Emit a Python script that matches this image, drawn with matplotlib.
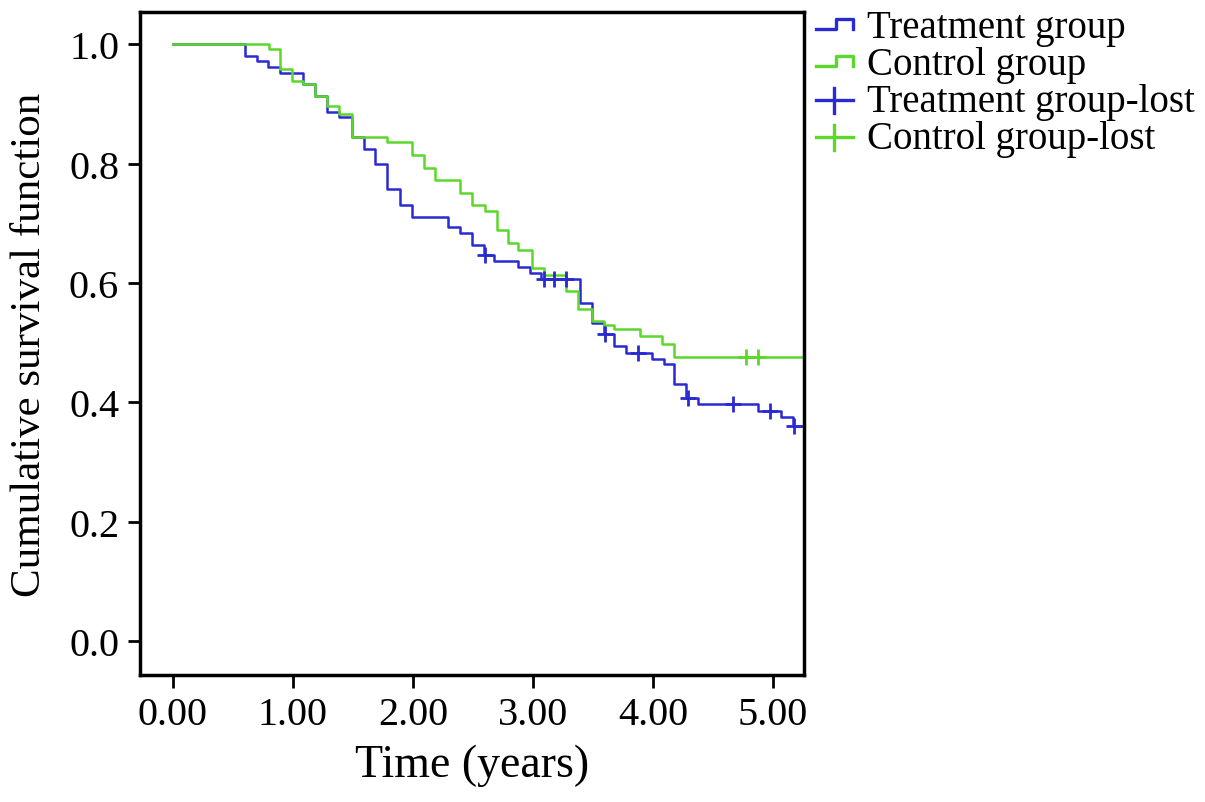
import numpy as np
import matplotlib.pyplot as plt
from matplotlib.legend_handler import HandlerBase
from matplotlib.lines import Line2D

# Kaplan-Meier step points (time in years, survival)
treat_t = [0.00, 0.60, 0.70, 0.79, 0.89, 1.08, 1.18, 1.28, 1.38, 1.49, 1.59, 1.68,
           1.78, 1.89, 1.99, 2.29, 2.39, 2.49, 2.59, 2.68, 2.88, 2.98, 3.07, 3.39,
           3.49, 3.59, 3.68, 3.78, 3.99, 4.09, 4.18, 4.28, 4.38, 4.88, 5.07, 5.17, 5.28]
treat_s = [1.000, 0.980, 0.972, 0.961, 0.951, 0.933, 0.914, 0.886, 0.878, 0.845, 0.825, 0.800,
           0.758, 0.731, 0.711, 0.694, 0.683, 0.664, 0.647, 0.636, 0.626, 0.617, 0.606, 0.566,
           0.533, 0.514, 0.494, 0.483, 0.472, 0.464, 0.431, 0.408, 0.397, 0.386, 0.375, 0.361, 0.361]
treat_lost = [2.60, 3.09, 3.18, 3.28, 3.60, 3.88, 4.29, 4.67, 4.98, 5.18]

ctrl_t = [0.00, 0.80, 0.89, 0.99, 1.08, 1.18, 1.28, 1.38, 1.49, 1.78, 1.99, 2.09,
          2.18, 2.39, 2.49, 2.60, 2.70, 2.79, 2.88, 2.99, 3.09, 3.28, 3.38, 3.49,
          3.59, 3.68, 3.89, 4.08, 4.18, 5.28]
ctrl_s = [1.000, 0.992, 0.958, 0.939, 0.933, 0.914, 0.897, 0.883, 0.845, 0.836, 0.814, 0.792,
          0.772, 0.750, 0.731, 0.720, 0.689, 0.667, 0.656, 0.625, 0.614, 0.586, 0.556, 0.536,
          0.529, 0.522, 0.511, 0.498, 0.476, 0.476]
ctrl_lost = [4.78, 4.88]

blue = '#2a2ad2'
green = '#5cd82a'

plt.rcParams['font.family'] = ['Liberation Serif', 'DejaVu Serif']


def surv_at(ts, ss, x):
    i = np.searchsorted(ts, x, side='right') - 1
    return ss[i]


class StepHandler(HandlerBase):
    def create_artists(self, legend, orig, xd, yd, w, h, fontsize, trans):
        y0 = yd + 0.3 * h
        y1 = yd + 0.3 * h + 7
        xs = [xd, xd + 0.55 * w, xd + 0.55 * w, xd + w, xd + w]
        ys = [y0, y0, y1, y1, y0]
        return [Line2D(xs, ys, color=orig.get_color(), lw=2.4, transform=trans)]


class CrossHandler(HandlerBase):
    def create_artists(self, legend, orig, xd, yd, w, h, fontsize, trans):
        yc = yd + 0.4 * h
        hl = Line2D([xd, xd + w], [yc, yc], color=orig.get_color(), lw=2.4, transform=trans)
        vl = Line2D([xd + 0.5 * w] * 2, [yc - 9, yc + 9], color=orig.get_color(), lw=2.4,
                    transform=trans)
        return [hl, vl]


fig = plt.figure(figsize=(12.05, 8.03), dpi=100)
ax = fig.add_axes([140 / 1205, 1 - 676 / 803, 664 / 1205, 663 / 803])

h1, = ax.step(treat_t, treat_s, where='post', color=blue, lw=1.8)
h2, = ax.step(ctrl_t, ctrl_s, where='post', color=green, lw=1.8)
h3, = ax.plot(treat_lost, [surv_at(treat_t, treat_s, x) for x in treat_lost], '+',
              color=blue, ms=11, mew=2, ls='none')
h4, = ax.plot(ctrl_lost, [surv_at(ctrl_t, ctrl_s, x) for x in ctrl_lost], '+',
              color=green, ms=11, mew=2, ls='none')

ax.set_xlim(-0.275, 5.26)
ax.set_ylim(-0.057, 1.054)
ax.set_xticks([0, 1, 2, 3, 4, 5])
ax.set_xticklabels(['0.00', '1.00', '2.00', '3.00', '4.00', '5.00'])
ax.set_yticks([0, 0.2, 0.4, 0.6, 0.8, 1.0])
ax.set_yticklabels(['0.0', '0.2', '0.4', '0.6', '0.8', '1.0'])
ax.tick_params(labelsize=29, length=9, width=2, pad=6)
for sp in ax.spines.values():
    sp.set_linewidth(2.5)

ax.set_xlabel('Time (years)', fontsize=33, labelpad=8)
ax.set_ylabel('Cumulative survival function', fontsize=31, labelpad=14)

fig.legend([h1, h2, h3, h4],
           ['Treatment group', 'Control group', 'Treatment group-lost', 'Control group-lost'],
           handler_map={h1: StepHandler(), h2: StepHandler(),
                        h3: CrossHandler(), h4: CrossHandler()},
           loc='upper left', bbox_to_anchor=(816 / 1205, 1 - 10 / 803),
           frameon=False, fontsize=28, handlelength=0.95, handletextpad=0.36,
           labelspacing=0.0, borderaxespad=0, borderpad=0)

fig.savefig('out.png', dpi=100)
